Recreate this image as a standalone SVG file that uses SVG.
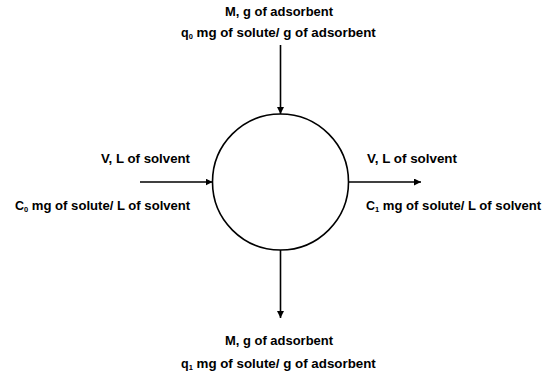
<svg xmlns="http://www.w3.org/2000/svg" width="551" height="378" viewBox="0 0 551 378">
<style>
text{font-family:"Liberation Sans",Arial,sans-serif;font-weight:bold;font-size:12.5px;fill:#000}
.sub{font-size:7.5px}
.ln{stroke:#000;stroke-width:1.6;fill:none}
</style>
<defs>
<marker id="ah" viewBox="0 0 10 10" refX="10" refY="5" markerWidth="7" markerHeight="7" markerUnits="userSpaceOnUse" orient="auto">
<path d="M0,0 L10,5 L0,10 z" fill="#000"/>
</marker>
</defs>
<rect width="551" height="378" fill="#fff"/>
<g id="connectors">
<line class="ln" x1="280.5" y1="45" x2="280.5" y2="114" marker-end="url(#ah)"/>
<line class="ln" x1="140" y1="182" x2="212.5" y2="182" marker-end="url(#ah)"/>
<line class="ln" x1="348.5" y1="182" x2="421" y2="182" marker-end="url(#ah)"/>
<line class="ln" x1="280.5" y1="250" x2="280.5" y2="318" marker-end="url(#ah)"/>
</g>
<g id="vessel">
<circle class="ln" cx="280.5" cy="182" r="68"/>
</g>
<g id="top-label">
<text x="225" y="16" textLength="108" lengthAdjust="spacingAndGlyphs">M, g of adsorbent</text>
<text x="181" y="37">q<tspan class="sub" dy="2">0</tspan><tspan dy="-2" textLength="183" lengthAdjust="spacingAndGlyphs"> mg of solute/ g of adsorbent</tspan></text>
</g>
<g id="left-label">
<text x="101" y="163" textLength="89" lengthAdjust="spacingAndGlyphs">V, L of solvent</text>
<text x="15" y="210">C<tspan class="sub" dy="2">0</tspan><tspan dy="-2" textLength="162" lengthAdjust="spacingAndGlyphs"> mg of solute/ L of solvent</tspan></text>
</g>
<g id="right-label">
<text x="367" y="163" textLength="90" lengthAdjust="spacingAndGlyphs">V, L of solvent</text>
<text x="366" y="210">C<tspan class="sub" dy="2">1</tspan><tspan dy="-2" textLength="162" lengthAdjust="spacingAndGlyphs"> mg of solute/ L of solvent</tspan></text>
</g>
<g id="bottom-label">
<text x="225" y="345" textLength="108" lengthAdjust="spacingAndGlyphs">M, g of adsorbent</text>
<text x="181" y="368">q<tspan class="sub" dy="2">1</tspan><tspan dy="-2" textLength="183" lengthAdjust="spacingAndGlyphs"> mg of solute/ g of adsorbent</tspan></text>
</g>
</svg>
